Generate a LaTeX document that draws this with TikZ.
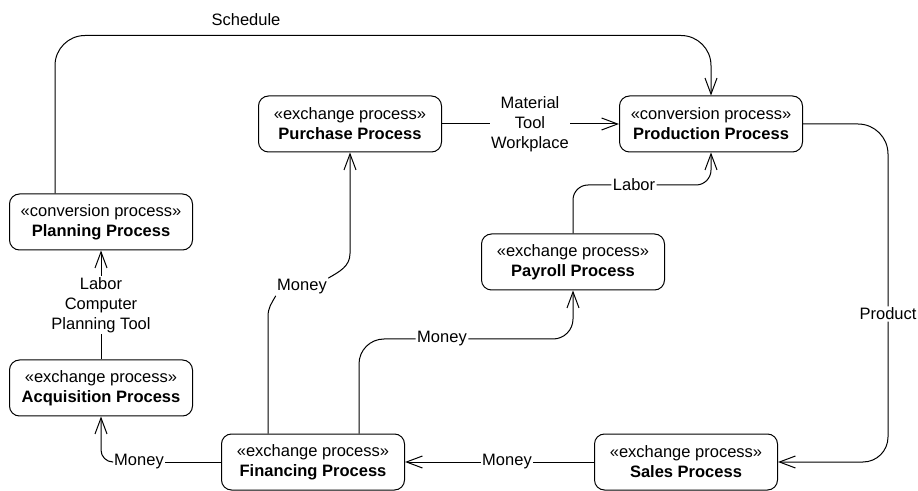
\documentclass[tikz,border=0pt]{standalone}
\usepackage{fontspec}
\setmainfont{Liberation Sans}
\usetikzlibrary{arrows.meta}

\begin{document}
\begin{tikzpicture}[x=1pt,y=1pt,line width=1pt,
  every node/.style={font=\fontsize{16.5}{20}\selectfont},
  proc/.style={draw, rounded corners=10pt, minimum width=183pt, minimum height=56pt, align=center, inner sep=0pt},
  lbl/.style={align=center, inner sep=1pt},
  flow/.style={-{Straight Barb[length=16pt,width=12pt]}}]
  \useasboundingbox (0,0) rectangle (918,490);

  % processes
  \node[proc] (plan) at (101,268) {«conversion process»\\\textbf{Planning Process}};
  \node[proc] (acq) at (101,102) {«exchange process»\\\textbf{Acquisition Process}};
  \node[proc] (purch) at (350,366) {«exchange process»\\\textbf{Purchase Process}};
  \node[proc] (prod) at (711,366) {«conversion process»\\\textbf{Production Process}};
  \node[proc] (pay) at (573,228) {«exchange process»\\\textbf{Payroll Process}};
  \node[proc] (fin) at (313,28) {«exchange process»\\\textbf{Financing Process}};
  \node[proc] (sales) at (686,28) {«exchange process»\\\textbf{Sales Process}};

  % flow labels
  \node[lbl] (sched) at (246,470) {Schedule};
  \node[lbl] (mtw) at (530,366) {Material\\Tool\\Workplace};
  \node[lbl] (labor) at (634,305) {Labor};
  \node[lbl] (product) at (888,176) {Product};
  \node[lbl] (m1) at (507,28) {Money};
  \node[lbl] (m2) at (139,28) {Money};
  \node[lbl] (m3) at (302,203) {Money};
  \node[lbl] (m4) at (442,151) {Money};
  \node[lbl] (ltool) at (101,185) {Labor\\Computer\\Planning Tool};

  % flows
  \draw[flow, rounded corners=30pt]
    ([xshift=-46pt]plan.north) |- ([yshift=60pt]prod.north) -- (prod.north);
  \draw (purch) -- (mtw);
  \draw[flow] (mtw) -- (prod);
  \draw[rounded corners=15pt] (pay.north) |- (labor.west);
  \draw[flow, rounded corners=15pt] (labor.east) -| (prod.south);
  \draw[rounded corners=30pt] (prod.east) -| (product.north);
  \draw[flow, rounded corners=25pt] (product.south) |- (sales.east);
  \draw (sales) -- (m1);
  \draw[flow] (m1) -- (fin);
  \draw (fin) -- (m2);
  \draw[flow, rounded corners=12pt] (m2.west) -| (acq.south);
  \draw ([xshift=-45pt]fin.north) -- ++(0,117) to[out=90,in=-120] (m3.south west);
  \draw[flow] (m3.north east) to[out=30,in=-90] ([yshift=-101pt]purch.south) -- (purch.south);
  \draw[rounded corners=25pt] ([xshift=46pt]fin.north) |- (m4.west);
  \draw[flow, rounded corners=20pt] (m4.east) -| (pay.south);
  \draw (acq) -- (ltool);
  \draw[flow] (ltool) -- (plan);
\end{tikzpicture}
\end{document}
